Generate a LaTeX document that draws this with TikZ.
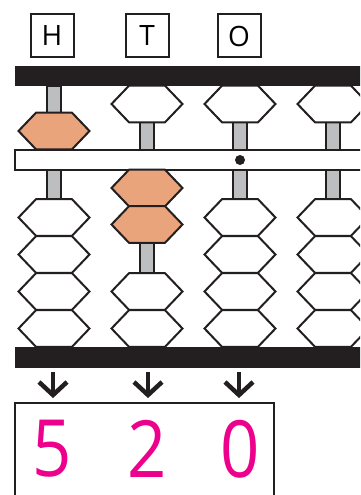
\documentclass[tikz,border=0pt]{standalone}
\usepackage{fontspec}
\setmainfont{Open Sans}
\usetikzlibrary{calc}
\definecolor{beadorange}{HTML}{EAA47C}
\definecolor{rodgray}{HTML}{BCBEC0}
\definecolor{barblack}{HTML}{231F20}
\definecolor{digitmag}{HTML}{EC008C}
\tikzset{
  outl/.style={draw=barblack,line width=2pt,line join=miter},
  rodbox/.style={fill=rodgray,draw=barblack,line width=1.2pt},
  framebar/.style={fill=barblack},
  labelbox/.style={draw=barblack,line width=2pt,minimum width=43pt,minimum height=43pt,inner sep=0pt,font=\fontsize{28}{28}\selectfont},
  digit/.style={text=digitmag,inner sep=0pt,xscale=0.87,font=\fontsize{79}{79}\selectfont},
  downarrow/.style={draw=barblack,line width=4.5pt,line join=miter},
  pics/bead/.style={code={\draw[outl,fill=#1] (-35.5,0)--(-18,-18.3)--(18,-18.3)--(35.5,0)--(18,18.3)--(-18,18.3)--cycle;}},
  pics/bead/.default=white
}
\begin{document}
\begin{tikzpicture}[x=1pt,y=-1pt]
\useasboundingbox (0,0) rectangle (360,495);
\clip (0,0) rectangle (360,495);
% labels
\node[labelbox] (lh) at (52,36) {H};
\node[labelbox] (lt) at (147,36) {T};
\node[labelbox] (lo) at (239,36) {O};
% rods
\foreach \x in {54,147,240,333}{
  \draw[rodbox] (\x-7,86) rectangle (\x+7,347);
}
% beam
\draw[outl,fill=white] (15,150) rectangle (370,170);
\fill[barblack] (240,160) circle (5);
% frame bars
\fill[framebar] (15,66) rectangle (370,86);
% beads H
\pic at (54,131) {bead=beadorange};
\foreach \y in {217.5,254.5,291.5,328.5} \pic at (54,\y) {bead};
% beads T
\pic at (147,104) {bead};
\pic at (147,188) {bead=beadorange};
\pic at (147,224.5) {bead=beadorange};
\foreach \y in {291.5,328.5} \pic at (147,\y) {bead};
% beads O and fourth
\foreach \x in {240,333}{
  \pic at (\x,104) {bead};
  \foreach \y in {217.5,254.5,291.5,328.5} \pic at (\x,\y) {bead};
}
\fill[framebar] (15,347) rectangle (370,368);
% arrows
\foreach \x/\n in {53/h,148/t,239/o}{
  \coordinate (a\n) at (\x,372);
  \coordinate (b\n) at (\x,395);
  \draw[downarrow] (a\n) -- (b\n);
  \draw[downarrow] ($(b\n)+(-14,-13)$) -- (b\n) -- ($(b\n)+(14,-13)$);
}
% answer box
\draw[outl] (15,403) rectangle (274,520);
\node[digit] (d5) at (52,449) {5};
\node[digit] (d2) at (147,449) {2};
\node[digit] (d0) at (240,449) {0};
\end{tikzpicture}
\end{document}
